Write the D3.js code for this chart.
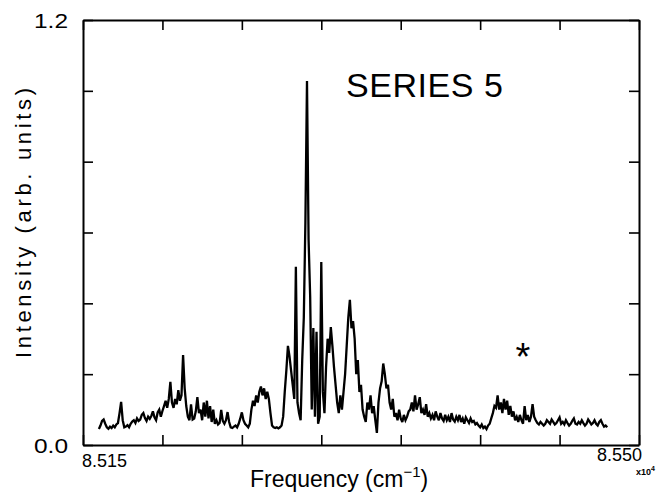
<!DOCTYPE html>
<html>
<head>
<meta charset="utf-8">
<script src="https://cdn.jsdelivr.net/npm/d3@7"></script>
<style>
  html, body { margin: 0; padding: 0; background: #fff; }
  svg { display: block; }
  text { font-family: "Liberation Sans", "DejaVu Sans", sans-serif; fill: #000; }
</style>
</head>
<body>
<svg id="chart" width="656" height="492"></svg>
<script>
// Spectrum sampled every 1 cm^-1 starting at 85160 cm^-1
const freqStart = 85160;
const freqStep = 1;
const intensity = [
  0.045, 0.055, 0.068, 0.072, 0.060, 0.050, 0.046, 0.052, 0.048, 0.055,
  0.050, 0.058, 0.062, 0.090, 0.122, 0.070, 0.050, 0.052, 0.056, 0.050,
  0.060, 0.066, 0.070, 0.062, 0.075, 0.068, 0.072, 0.085, 0.090, 0.076,
  0.068, 0.080, 0.074, 0.082, 0.095, 0.078, 0.070, 0.092, 0.100, 0.080,
  0.096, 0.110, 0.125, 0.105, 0.130, 0.178, 0.120, 0.105, 0.130, 0.115,
  0.155, 0.125, 0.140, 0.254, 0.160, 0.110, 0.080, 0.070, 0.115, 0.072,
  0.075, 0.095, 0.135, 0.090, 0.100, 0.070, 0.120, 0.080, 0.125, 0.075,
  0.110, 0.065, 0.100, 0.060, 0.070, 0.058, 0.062, 0.099, 0.068, 0.060,
  0.070, 0.093, 0.065, 0.050, 0.048, 0.052, 0.055, 0.050, 0.060, 0.075,
  0.092, 0.070, 0.060, 0.055, 0.050, 0.060, 0.100, 0.125, 0.110, 0.140,
  0.120, 0.150, 0.165, 0.140, 0.160, 0.130, 0.150, 0.130, 0.090, 0.055,
  0.050, 0.048, 0.050, 0.047, 0.050, 0.055, 0.080, 0.150, 0.210, 0.280,
  0.250, 0.210, 0.170, 0.130, 0.503, 0.120, 0.090, 0.070, 0.240, 0.360,
  0.630, 1.028, 0.580, 0.420, 0.100, 0.330, 0.080, 0.320, 0.060, 0.080,
  0.517, 0.150, 0.090, 0.220, 0.300, 0.260, 0.333, 0.280, 0.220, 0.170,
  0.120, 0.090, 0.140, 0.100, 0.150, 0.200, 0.280, 0.360, 0.410, 0.330,
  0.350, 0.300, 0.200, 0.240, 0.150, 0.170, 0.100, 0.080, 0.065, 0.120,
  0.100, 0.140, 0.090, 0.110, 0.070, 0.034, 0.120, 0.160, 0.180, 0.230,
  0.200, 0.160, 0.170, 0.120, 0.100, 0.130, 0.080, 0.090, 0.070, 0.100,
  0.075, 0.065, 0.085, 0.070, 0.080, 0.095, 0.100, 0.120, 0.095, 0.140,
  0.100, 0.115, 0.135, 0.090, 0.100, 0.085, 0.115, 0.080, 0.090, 0.075,
  0.085, 0.070, 0.095, 0.080, 0.070, 0.090, 0.075, 0.068, 0.085, 0.070,
  0.080, 0.065, 0.090, 0.072, 0.066, 0.080, 0.070, 0.085, 0.065, 0.075,
  0.060, 0.078, 0.070, 0.062, 0.075, 0.065, 0.068, 0.058, 0.062, 0.055,
  0.050, 0.058, 0.048, 0.052, 0.045, 0.055, 0.060, 0.075, 0.090, 0.110,
  0.105, 0.140, 0.100, 0.120, 0.090, 0.130, 0.100, 0.125, 0.085, 0.110,
  0.080, 0.095, 0.070, 0.080, 0.065, 0.085, 0.070, 0.060, 0.110, 0.070,
  0.085, 0.065, 0.080, 0.115, 0.080, 0.070, 0.062, 0.058, 0.065, 0.060,
  0.055, 0.060, 0.070, 0.065, 0.060, 0.072, 0.065, 0.058, 0.062, 0.070,
  0.078, 0.060, 0.065, 0.058, 0.070, 0.062, 0.055, 0.060, 0.068, 0.075,
  0.060, 0.058, 0.065, 0.060, 0.070, 0.062, 0.055, 0.060, 0.072, 0.065,
  0.058, 0.062, 0.070, 0.060, 0.055, 0.065, 0.070, 0.060, 0.052, 0.055,
  0.050
];
const frequencies = intensity.map((_, i) => freqStart + i * freqStep);

// Axes: tick positions and the labels printed at them
const xTicks = [85150, 85200, 85250, 85300, 85350, 85400, 85450, 85500];
const xTickLabels = ["8.515", "", "", "", "", "", "", "8.550"];
const yTicks = [0, 0.2, 0.4, 0.6, 0.8, 1.0, 1.2];
const yTickLabels = ["0.0", "", "", "", "", "", "1.2"];

const xDomain = [85150, 85500];
const yDomain = [0, 1.2];

const svg = d3.select("#chart");
const plotL = 83, plotR = 639, plotT = 20, plotB = 445;

const x = d3.scaleLinear().domain(xDomain).range([plotL, plotR]);
const y = d3.scaleLinear().domain(yDomain).range([plotB, plotT]);

const tickLen = 10;

// frame with inward ticks on all four sides
const axes = svg.append("g").attr("class", "axes");
axes.append("g").attr("transform", `translate(0,${plotB})`)
  .call(d3.axisBottom(x).tickValues(xTicks).tickSize(-tickLen).tickSizeOuter(0).tickFormat(""));
axes.append("g").attr("transform", `translate(0,${plotT})`)
  .call(d3.axisTop(x).tickValues(xTicks).tickSize(-tickLen).tickSizeOuter(0).tickFormat(""));
axes.append("g").attr("transform", `translate(${plotL},0)`)
  .call(d3.axisLeft(y).tickValues(yTicks).tickSize(-tickLen).tickSizeOuter(0).tickFormat(""));
axes.append("g").attr("transform", `translate(${plotR},0)`)
  .call(d3.axisRight(y).tickValues(yTicks).tickSize(-tickLen).tickSizeOuter(0).tickFormat(""));
axes.selectAll("path.domain").attr("stroke", "#000").attr("stroke-width", 2);
axes.selectAll(".tick line").attr("stroke", "#000").attr("stroke-width", 1.6);

// end labels on the axes
svg.append("g").selectAll("text").data(yTicks.map((v, i) => [v, yTickLabels[i]]).filter(d => d[1]))
  .join("text")
  .attr("x", plotL - 49).attr("y", d => y(d[0]) + 8)
  .attr("font-size", 21)
  .attr("textLength", 34)
  .attr("lengthAdjust", "spacingAndGlyphs")
  .text(d => d[1]);

svg.append("g").selectAll("text").data(xTicks.map((v, i) => [v, xTickLabels[i], i]).filter(d => d[1]))
  .join("text")
  .attr("x", d => d[2] === 0 ? x(d[0]) - 1 : x(d[0]) - 42)
  .attr("y", d => d[2] === 0 ? plotB + 22 : plotB + 16)
  .attr("font-size", 18)
  .attr("textLength", 45)
  .attr("lengthAdjust", "spacingAndGlyphs")
  .text(d => d[1]);

// exponent of the frequency axis
const mult = svg.append("text").attr("x", 636).attr("y", 475).attr("font-size", 9).attr("font-weight", "bold");
mult.append("tspan").text("x10");
mult.append("tspan").attr("dy", -4).attr("font-size", 7).text("4");

// axis titles
const xt = svg.append("text").attr("x", 250).attr("y", 487).attr("font-size", 23);
xt.append("tspan").text("Frequency  (cm");
xt.append("tspan").attr("dy", -10).attr("font-size", 15).text("\u22121");
xt.append("tspan").attr("dy", 10).text(")");

svg.append("text")
  .attr("transform", "translate(31,223) rotate(-90)")
  .attr("text-anchor", "middle")
  .attr("font-size", 22)
  .attr("textLength", 270)
  .attr("lengthAdjust", "spacing")
  .text("Intensity (arb. units)");

// series name and marker
svg.append("text")
  .attr("x", 346).attr("y", 97)
  .attr("font-size", 34)
  .attr("textLength", 157)
  .attr("lengthAdjust", "spacing")
  .text("SERIES 5");

svg.append("text")
  .attr("x", 523).attr("y", 370)
  .attr("text-anchor", "middle")
  .attr("font-size", 38)
  .text("*");

// spectrum trace
const line = d3.line()
  .x((d, i) => x(frequencies[i]))
  .y(d => y(d));

svg.append("path")
  .datum(intensity)
  .attr("fill", "none")
  .attr("stroke", "#000")
  .attr("stroke-width", 2.3)
  .attr("stroke-linejoin", "miter")
  .attr("stroke-miterlimit", 3)
  .attr("d", line);
</script>
</body>
</html>
